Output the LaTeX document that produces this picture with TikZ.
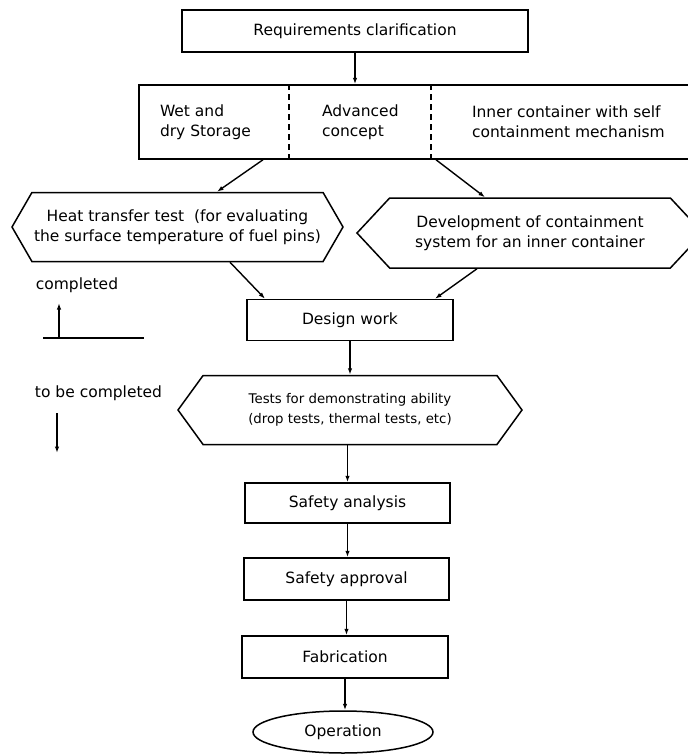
\documentclass[tikz,border=0pt]{standalone}
\usepackage{fontspec}
\setmainfont{DejaVu Sans}
\usepackage{tikz}
\usetikzlibrary{arrows}
\usetikzlibrary{arrows.meta}
\usetikzlibrary{shapes.symbols,shapes.geometric}
\tikzset{>={Latex[width=4.5pt,length=6.5pt]}}
\tikzset{box/.style={draw,line width=1.5pt,rectangle,inner sep=0pt},
         hexa/.style={draw,line width=1.5pt,signal,signal to=east and west,inner sep=0pt,align=center},
         lbl/.style={font=\fontsize{15.5}{20}\selectfont}}

\begin{document}
\begin{tikzpicture}[x=1pt,y=-1pt,line width=1.4pt]
\useasboundingbox (0,0) rectangle (688,755);
\node[box,lbl,minimum width=346pt,minimum height=42pt] (req) at (355,31) {Requirements clarification};
\node[box,minimum width=551pt,minimum height=74pt] (opts) at (414.5,122) {};
\node[lbl,anchor=west,align=left] (wet) at (156,122) {Wet and\\dry Storage};
\node[lbl,anchor=west,align=left] (adv) at (318,122) {Advanced\\concept};
\node[lbl,anchor=west,align=left] (inner) at (468,122) {Inner container with self\\containment mechanism};
\draw[dash pattern=on 6pt off 4pt,line width=1.2pt] (289,0 |- opts.north) -- (289,0 |- opts.south);
\draw[dash pattern=on 6pt off 4pt,line width=1.2pt] (431,0 |- opts.north) -- (431,0 |- opts.south);
\node[hexa,lbl,minimum width=331pt,minimum height=69pt,signal pointer angle=120] (heat) at (177.5,227)
   {Heat transfer test~ (for evaluating\\the surface temperature of fuel pins)};
\node[hexa,lbl,minimum width=346pt,minimum height=70pt,signal pointer angle=94] (dev) at (530,233)
   {Development of containment\\system for an inner container};
\node[box,lbl,minimum width=206pt,minimum height=41pt] (design) at (350,320) {Design work};
\node[hexa,font=\fontsize{13.3}{20}\selectfont,minimum width=344pt,minimum height=69pt,signal pointer angle=108] (tests) at (350,410)
   {Tests for demonstrating ability\\(drop tests, thermal tests, etc)};
\node[box,lbl,minimum width=205pt,minimum height=40pt] (sana) at (347.5,503) {Safety analysis};
\node[box,lbl,minimum width=205pt,minimum height=42pt] (sapp) at (346.5,579) {Safety approval};
\node[box,lbl,minimum width=206pt,minimum height=42pt] (fab) at (345,657) {Fabrication};
\node[draw,ellipse,lbl,line width=1.5pt,minimum width=180pt,minimum height=42pt,inner sep=0pt] (op) at (343,732) {Operation};
% legend
\node[lbl] (done) at (77,285) {completed};
\node[lbl] (todo) at (98.5,393) {to be completed};
\coordinate (bl) at (43,338); \coordinate (br) at (144,338);
\coordinate (up0) at (59,338); \coordinate (up1) at (59,303);
\coordinate (dn0) at (57,413); \coordinate (dn1) at (57,453);
\draw[-] (bl) -- (br);
\draw[->] (up0) -- (up1);
\draw[->] (dn0) -- (dn1);
% flow
\draw[->] (req.south) -- (req.south |- opts.north);
\draw[->] (263,0 |- opts.south) -- (217,0 |- heat.north);
\draw[->] (436,0 |- opts.south) -- (485,0 |- dev.north);
\draw[->] (230,0 |- heat.south) -- (265,0 |- design.north);
\draw[->] (477,0 |- dev.south) -- (435,0 |- design.north);
\draw[->] (design.south) -- (design.south |- tests.north);
\draw[->] (tests.south -| sana.north) -- (sana.north);
\draw[->] (sana.south) -- (sana.south |- sapp.north);
\draw[->] (sapp.south) -- (sapp.south |- fab.north);
\draw[->] (fab.south) -- (fab.south |- op.north);
\end{tikzpicture}
\end{document}
